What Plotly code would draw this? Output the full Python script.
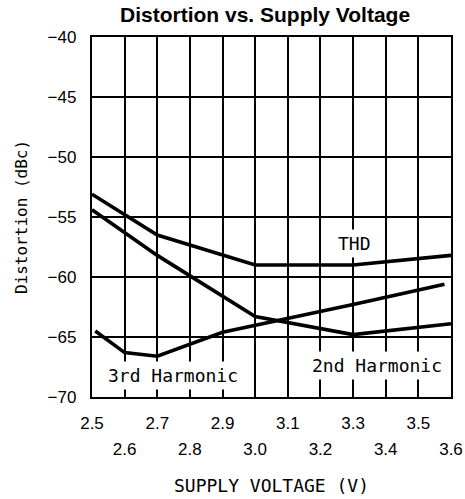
import plotly.graph_objects as go

# Data
thd_x = [2.5, 2.7, 3.0, 3.3, 3.6]
thd_y = [-53.1, -56.5, -59.0, -59.0, -58.2]

h2_x = [2.5, 2.7, 3.0, 3.3, 3.6]
h2_y = [-54.4, -58.2, -63.3, -64.8, -63.9]

h3_x = [2.51, 2.6, 2.7, 2.9, 3.3, 3.58]
h3_y = [-64.5, -66.3, -66.6, -64.6, -62.3, -60.6]

x_ticks = [2.5, 2.6, 2.7, 2.8, 2.9, 3.0, 3.1, 3.2, 3.3, 3.4, 3.5, 3.6]
x_labels = ["2.5", "2.6", "2.7", "2.8", "2.9", "3.0", "3.1", "3.2", "3.3", "3.4", "3.5", "3.6"]
y_ticks = [-70, -65, -60, -55, -50, -45, -40]
y_labels = ["\u221270", "\u221265", "\u221260", "\u221255", "\u221250", "\u221245", "\u221240"]

labels_text = ["THD", "2nd Harmonic", "3rd Harmonic"]
labels_x = [3.305, 3.372, 2.748]
labels_y = [-57.2, -67.4, -68.2]

MONO = "DejaVu Sans Mono, monospace"
SANS = "Liberation Sans, Arial, sans-serif"
BLACK = "#000000"

fig = go.Figure()
line = dict(color=BLACK, width=3.6)
fig.add_trace(go.Scatter(x=thd_x, y=thd_y, mode="lines", line=line, hoverinfo="skip"))
fig.add_trace(go.Scatter(x=h2_x, y=h2_y, mode="lines", line=line, hoverinfo="skip"))
fig.add_trace(go.Scatter(x=h3_x, y=h3_y, mode="lines", line=line, hoverinfo="skip"))
# invisible trace to host the second (staggered) label axis
fig.add_trace(go.Scatter(x=[x_ticks[0], x_ticks[-1]], y=[-70, -70], xaxis="x2",
                         mode="lines", line=dict(width=0), opacity=0, hoverinfo="skip"))

top_row = [t if i % 2 == 0 else "" for i, t in enumerate(x_labels)]
bottom_row = [t if i % 2 == 1 else "" for i, t in enumerate(x_labels)]

for t, x, y in zip(labels_text, labels_x, labels_y):
    fig.add_annotation(x=x, y=y, xref="x", yref="y", text=t, showarrow=False,
                       font=dict(family=MONO, size=18, color=BLACK),
                       bgcolor="white", borderpad=3)

fig.update_layout(
    width=465, height=499, autosize=False,
    margin=dict(l=92, r=14, t=37, b=102, autoexpand=False),
    paper_bgcolor="white", plot_bgcolor="white",
    showlegend=False,
    title=dict(text="<b>Distortion vs. Supply Voltage</b>",
               font=dict(family=SANS, size=21, color=BLACK),
               x=0.570, xanchor="center", y=0.986, yanchor="top", pad=dict(t=0)),
    xaxis=dict(range=[2.5, 3.6], tickvals=x_ticks, ticktext=top_row, automargin=False,
               showgrid=True, gridcolor=BLACK, gridwidth=2,
               showline=True, linecolor=BLACK, linewidth=2.4, mirror=True,
               ticks="", zeroline=False, ticklabelstandoff=9,
               tickfont=dict(family=SANS, size=17, color=BLACK),
               title=dict(text="SUPPLY VOLTAGE (V)", standoff=48,
                          font=dict(family=MONO, size=18, color=BLACK))),
    xaxis2=dict(range=[2.5, 3.6], overlaying="x", anchor="y", side="bottom",
                tickvals=x_ticks, ticktext=bottom_row, showgrid=False, automargin=False,
                showline=False, ticks="", zeroline=False, ticklabelstandoff=40,
                tickfont=dict(family=SANS, size=17, color=BLACK)),
    yaxis=dict(range=[-70, -40], tickvals=y_ticks, ticktext=y_labels, automargin=False,
               showgrid=True, gridcolor=BLACK, gridwidth=2,
               showline=True, linecolor=BLACK, linewidth=2.4, mirror=True,
               ticks="", zeroline=False, ticklabelstandoff=10,
               tickfont=dict(family=SANS, size=17, color=BLACK),
               title=dict(text="Distortion (dBc)", standoff=16,
                          font=dict(family=MONO, size=16, color=BLACK))),
)

fig.write_html("out.html",
               config={"displayModeBar": False, "responsive": False},
               post_script="document.body.style.margin='0';document.body.style.overflow='hidden';")
